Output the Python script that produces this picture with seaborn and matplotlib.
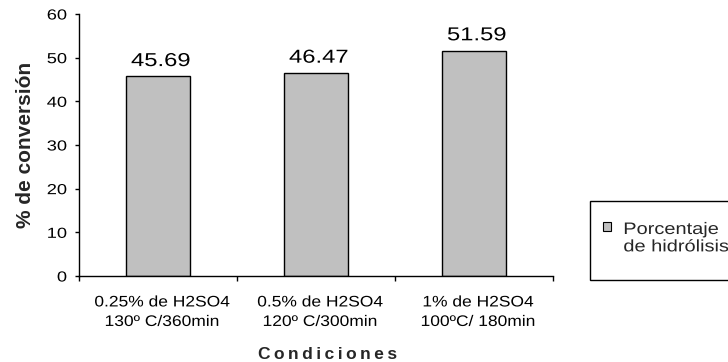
import matplotlib
matplotlib.use("Agg")
import matplotlib.pyplot as plt
import seaborn as sns
import pandas as pd
from matplotlib.patches import Patch, Rectangle
from matplotlib.patheffects import AbstractPathEffect
from matplotlib.transforms import Affine2D, ScaledTranslation
from matplotlib.path import Path
from matplotlib.legend_handler import HandlerPatch

condiciones = ["0.25% de H2SO4\n130º C/360min",
               "0.5% de H2SO4\n120º C/300min",
               "1% de H2SO4\n100ºC/ 180min"]
conversion = [45.69, 46.47, 51.59]
y_ticks = [0, 10, 20, 30, 40, 50, 60]
serie = "Porcentaje\nde hidrólisis"


class WideText(AbstractPathEffect):
    """Draw glyphs widened horizontally, keeping one edge (or the centre) fixed."""

    def __init__(self, sx=1.25, anchor="center"):
        super().__init__()
        self.sx = sx
        self.anchor = anchor

    def draw_path(self, renderer, gc, tpath, affine, rgbFace=None):
        v = tpath.vertices
        if tpath.codes is not None:
            v = v[tpath.codes != Path.CLOSEPOLY]
        if len(v):
            x0, x1 = v[:, 0].min(), v[:, 0].max()
        else:
            x0 = x1 = 0.0
        ref = {"left": x0, "right": x1}.get(self.anchor, (x0 + x1) / 2)
        t = Affine2D().translate(-ref, 0).scale(self.sx, 1).translate(ref, 0) + affine
        renderer.draw_path(gc, tpath, t, rgbFace)


class RaisedSquare(HandlerPatch):
    """Legend swatch lifted to sit beside the first line of a two-line label."""

    def __init__(self, lift=0.0, **kw):
        super().__init__(**kw)
        self.lift = lift

    def create_artists(self, legend, orig_handle, xdescent, ydescent,
                       width, height, fontsize, trans):
        p = Rectangle((-xdescent, -ydescent + self.lift), width, height)
        self.update_prop(p, orig_handle, legend)
        p.set_transform(trans)
        return [p]


sns.set_theme(style="white")
plt.rcParams["font.family"] = ["Liberation Sans", "DejaVu Sans"]

df = pd.DataFrame({"Condiciones": condiciones, "conversion": conversion})

W, H = 728, 362
fig = plt.figure(figsize=(W / 100, H / 100), dpi=100)
ax = fig.add_axes([79 / W, 1 - 276 / H, (553 - 79) / W, (276 - 14) / H])

sns.barplot(data=df, x="Condiciones", y="conversion", ax=ax,
            color="#c0c0c0", saturation=1, width=0.41,
            edgecolor="black", linewidth=1.0)

for p, v in zip(ax.patches, conversion):
    ax.annotate(f"{v:.2f}", (p.get_x() + p.get_width() / 2, p.get_height()),
                xytext=(2, 7.5), textcoords="offset points",
                ha="center", va="baseline", fontsize=13.5, color="black",
                path_effects=[WideText(1.27, "center")])

ax.set_xlim(-0.5, len(condiciones) - 0.5)
ax.set_ylim(0, 60)
ax.set_yticks(y_ticks)
ax.tick_params(axis="y", direction="out", length=3, width=1, colors="black",
               labelsize=10.5, pad=5.6, left=True)
ax.set_xticks(range(len(condiciones)))
ax.set_xticklabels(condiciones, fontsize=11, linespacing=1.5)
ax.tick_params(axis="x", length=0, pad=14, colors="black")
ax.set_xticks([i - 0.5 for i in range(len(condiciones) + 1)], minor=True)
ax.tick_params(axis="x", which="minor", direction="out", length=3.5, width=1,
               bottom=True, color="black")

for s in ["top", "right"]:
    ax.spines[s].set_visible(False)
for s in ["left", "bottom"]:
    ax.spines[s].set_color("black")
    ax.spines[s].set_linewidth(1.0)

ax.set_ylabel("% de conversión", fontsize=15, fontweight="bold")
ax.yaxis.set_label_coords(-0.093, 0.5)
ax.set_xlabel("\u2009".join("Condiciones"), fontsize=12.5, fontweight="bold")
ax.xaxis.set_label_coords(0.525, -0.2715)

shift = ScaledTranslation(4 / 100, 0, fig.dpi_scale_trans)
for lbl in ax.get_xticklabels():
    lbl.set_path_effects([WideText(1.14, "center")])
    lbl.set_transform(lbl.get_transform() + shift)
for lbl in ax.get_yticklabels():
    lbl.set_path_effects([WideText(1.25, "right")])

# legend box, running past the right edge of the figure
fig.patches.append(Rectangle((590 / W, 1 - 280 / H), 150 / W, 79 / H,
                             transform=fig.transFigure, facecolor="white",
                             edgecolor="black", linewidth=1.0))
handle = Patch(facecolor="#c0c0c0", edgecolor="black", linewidth=0.8)
leg = fig.legend([handle], [serie], loc="upper left",
                 bbox_to_anchor=(603 / W, 1 - 222 / H),
                 frameon=False, fontsize=12,
                 handlelength=0.45, handleheight=0.45, handletextpad=0.78,
                 borderpad=0, borderaxespad=0,
                 handler_map={Patch: RaisedSquare(lift=8.4)})
for t in leg.get_texts():
    t.set_linespacing(1.2)
    t.set_path_effects([WideText(1.2, "left")])

fig.savefig("out.png", dpi=100)
